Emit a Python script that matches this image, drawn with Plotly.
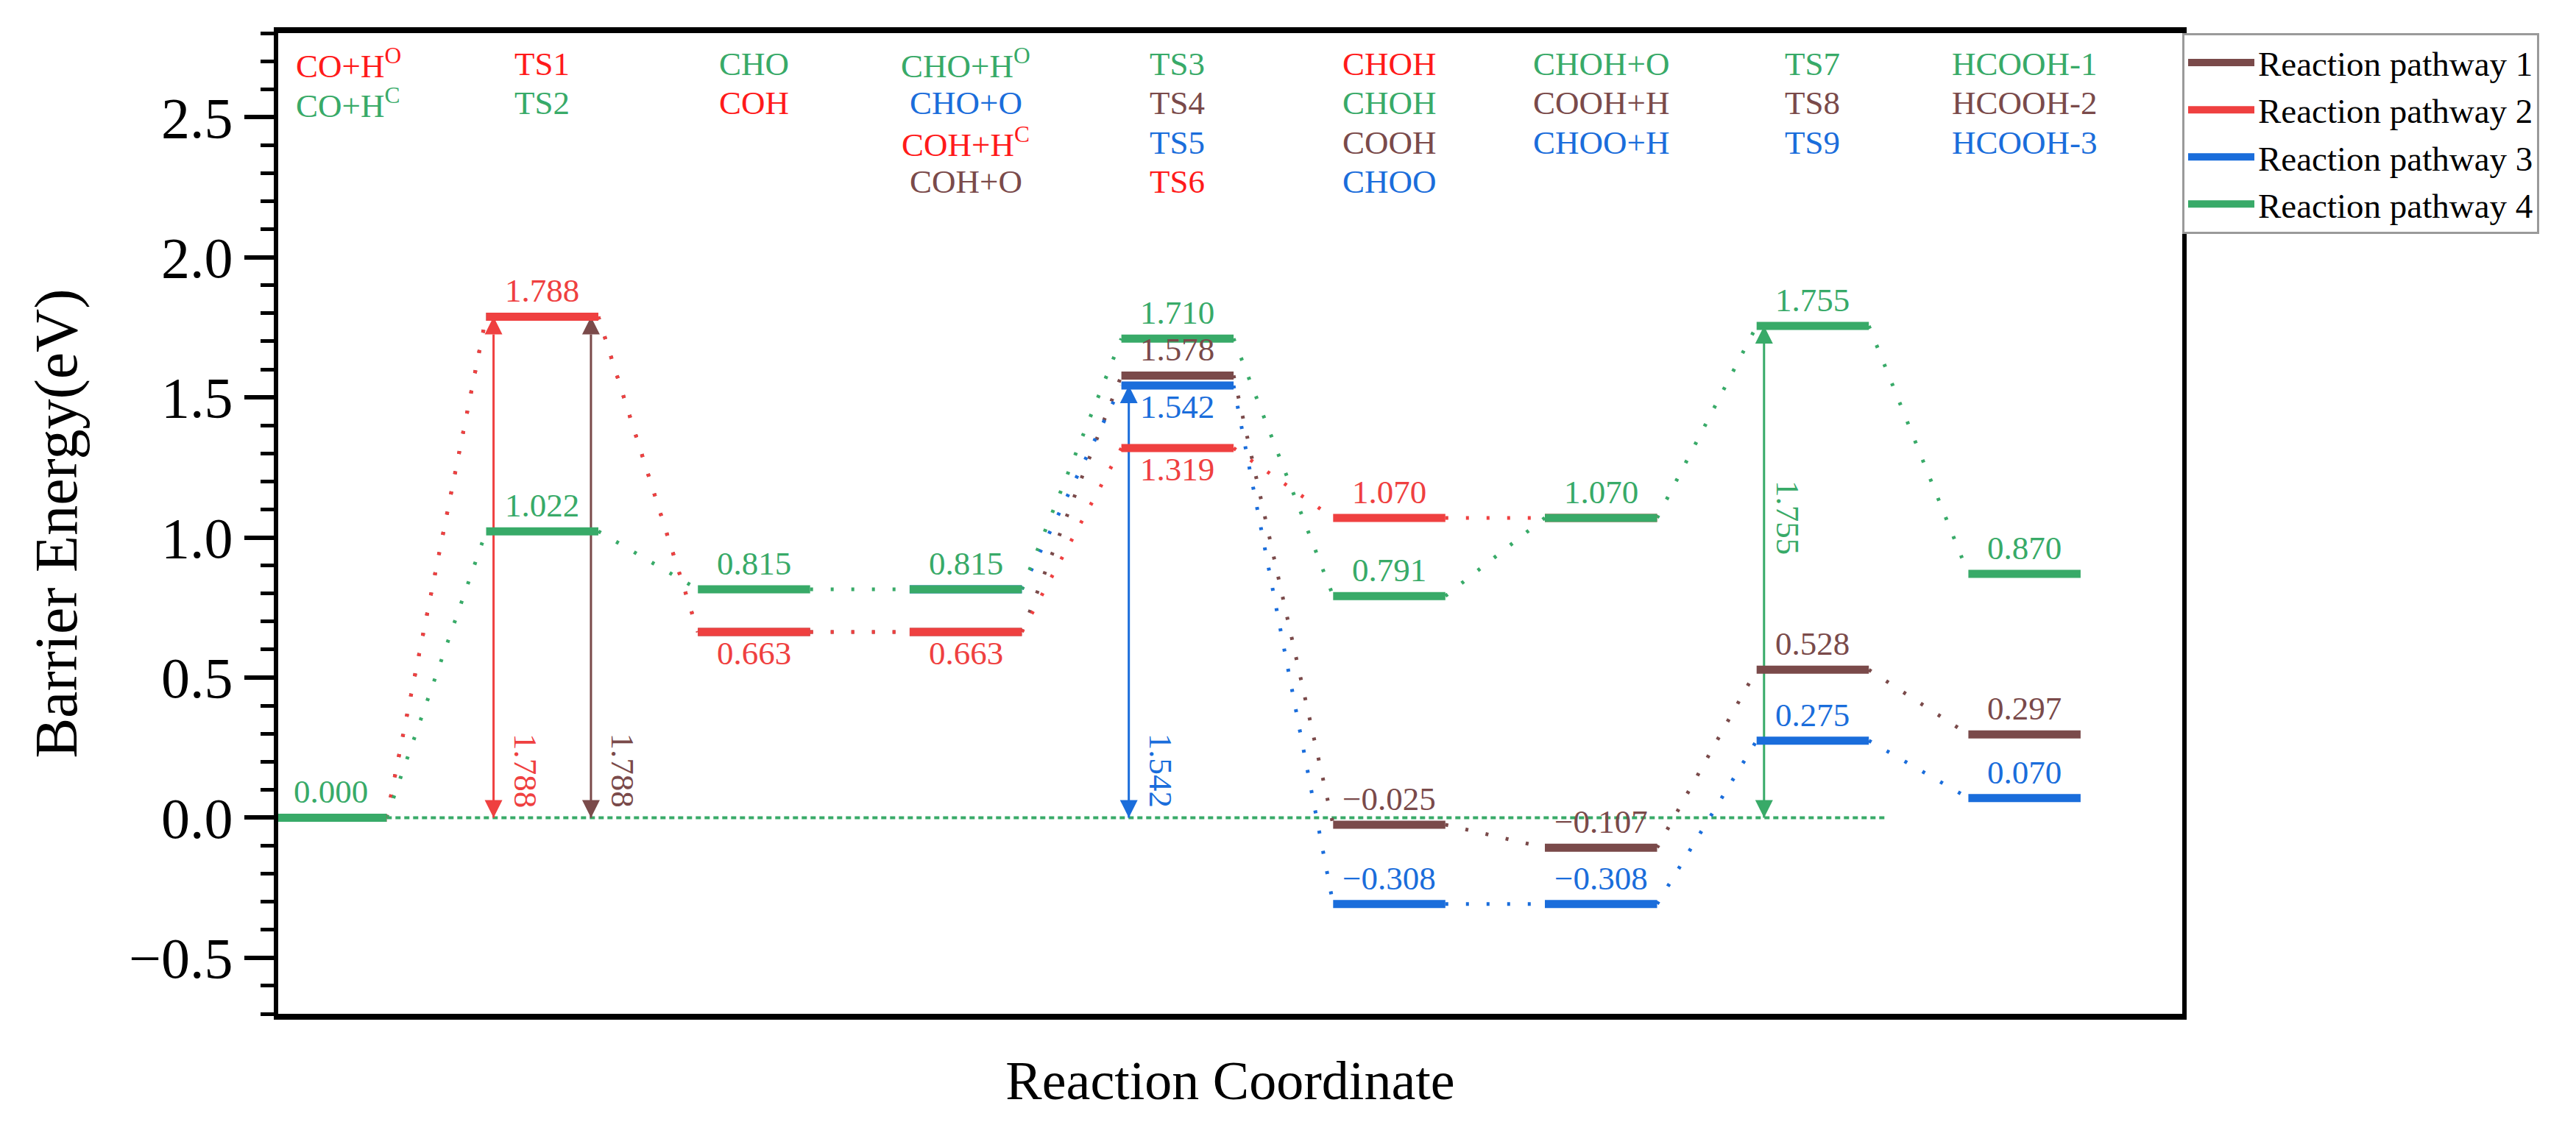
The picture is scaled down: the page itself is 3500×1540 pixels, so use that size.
import plotly.graph_objects as go

# ---------------- data ----------------
positions = list(range(9))
pathway_names = ["Reaction pathway 1", "Reaction pathway 2", "Reaction pathway 3", "Reaction pathway 4"]
pathway1 = [0.000, 1.788, 0.663, 0.663, 1.578, -0.025, -0.107, 0.528, 0.297]
pathway2 = [0.000, 1.788, 0.663, 0.663, 1.319, 1.070, 1.070, None, None]
pathway3 = [None, None, None, 0.815, 1.542, -0.308, -0.308, 0.275, 0.070]
pathway4 = [0.000, 1.022, 0.815, 0.815, 1.710, 0.791, 1.070, 1.755, 0.870]

# value labels: position, value, pathway (1-4), side
label_pos = [0, 1, 1, 2, 2, 3, 3, 4, 4, 4, 4, 5, 5, 5, 5, 6, 6, 6, 7, 7, 7, 8, 8, 8]
label_val = [0.000, 1.788, 1.022, 0.815, 0.663, 0.815, 0.663, 1.710, 1.578, 1.542, 1.319,
             1.070, 0.791, -0.025, -0.308, 1.070, -0.107, -0.308, 1.755, 0.528, 0.275,
             0.870, 0.297, 0.070]
label_path = [4, 2, 4, 4, 2, 4, 2, 4, 1, 3, 2, 2, 4, 1, 3, 4, 1, 3, 4, 1, 3, 4, 1, 3]
label_below = [False, False, False, False, True, False, True, False, False, True, True,
               False, False, False, False, False, False, False, False, False, False,
               False, False, False]

# species names at the top of each column
species_text = [
    ["CO+H<sup>O</sup>", "CO+H<sup>C</sup>"],
    ["TS1", "TS2"],
    ["CHO", "COH"],
    ["CHO+H<sup>O</sup>", "CHO+O", "COH+H<sup>C</sup>", "COH+O"],
    ["TS3", "TS4", "TS5", "TS6"],
    ["CHOH", "CHOH", "COOH", "CHOO"],
    ["CHOH+O", "COOH+H", "CHOO+H"],
    ["TS7", "TS8", "TS9"],
    ["HCOOH-1", "HCOOH-2", "HCOOH-3"],
]
species_path = [
    [2, 4], [2, 4], [4, 2], [4, 3, 2, 1], [4, 1, 3, 2],
    [2, 4, 1, 3], [4, 1, 3], [4, 1, 3], [4, 1, 3],
]

# barrier arrows
barrier_pos = [1, 1, 4, 7]
barrier_path = [2, 1, 3, 4]
barrier_val = [1.788, 1.788, 1.542, 1.755]
barrier_side = [-1, 1, -1, -1]

y_ticks = [-0.5, 0.0, 0.5, 1.0, 1.5, 2.0, 2.5]

# ---------------- style ----------------
colors = {1: "#7a4a4a", 2: "#ef4040", 3: "#1a6ddb", 4: "#38aa68"}
text_colors = {1: "#7a4a4a", 2: "#ff1a1a", 3: "#1a6ddb", 4: "#38aa68"}
HW = 0.265
FONT = "Liberation Serif"
paths = {1: pathway1, 2: pathway2, 3: pathway3, 4: pathway4}

fig = go.Figure()

# zero reference line (dashed, pathway-4 colour)
fig.add_trace(go.Scatter(x=[positions[0] + HW, positions[7] + 0.35], y=[pathway4[0], pathway4[0]],
                         mode="lines", line=dict(color=colors[4], width=4, dash="7px,5px"),
                         showlegend=False, hoverinfo="skip"))

draw_order = [1, 3, 2, 4]
for k in draw_order:
    vals = paths[k]
    cx, cy = [], []
    for i in range(len(positions) - 1):
        if vals[i] is not None and vals[i + 1] is not None:
            cx += [positions[i] + HW, positions[i + 1] - HW, None]
            cy += [vals[i], vals[i + 1], None]
    fig.add_trace(go.Scatter(x=cx, y=cy, mode="lines",
                             line=dict(color=colors[k], width=5, dash="4px,24px"),
                             legendgroup=str(k), showlegend=False, hoverinfo="skip"))

# barrier arrows (double headed) as line+marker traces
for p, k, v, s in zip(barrier_pos, barrier_path, barrier_val, barrier_side):
    xa = positions[p] + s * 0.23
    fig.add_trace(go.Scatter(x=[xa, xa], y=[0, v], mode="lines+markers",
                             line=dict(color=colors[k], width=3),
                             marker=dict(symbol=["arrow-down", "arrow-up"], size=24,
                                         color=colors[k], line=dict(width=0)),
                             showlegend=False, hoverinfo="skip", cliponaxis=False))

for k in draw_order:
    vals = paths[k]
    lx, ly = [], []
    for i, v in enumerate(vals):
        if v is not None:
            lx += [positions[i] - HW, positions[i] + HW, None]
            ly += [v, v, None]
    fig.add_trace(go.Scatter(x=lx, y=ly, mode="lines", name=pathway_names[k - 1],
                             line=dict(color=colors[k], width=11),
                             legendgroup=str(k), legendrank=k))

ann = []
# value labels
for p, v, k, below in zip(label_pos, label_val, label_path, label_below):
    txt = f"{v:.3f}".replace("-", "\u2212")
    ann.append(dict(x=positions[p], y=v, xref="x", yref="y", text=txt, showarrow=False,
                    font=dict(family=FONT, size=45, color=colors[k]),
                    xanchor="center", yanchor="top" if below else "bottom",
                    yshift=-2 if below else 8))

# species names
row_y = [2.69, 2.55, 2.41, 2.27]
for c, (texts, pk) in enumerate(zip(species_text, species_path)):
    for r, (t, k) in enumerate(zip(texts, pk)):
        if c == 0:
            ann.append(dict(x=positions[c] - 0.17, y=row_y[r], xref="x", yref="y", text=t,
                            showarrow=False, xanchor="left", yanchor="middle",
                            font=dict(family=FONT, size=45, color=text_colors[k])))
        else:
            ann.append(dict(x=positions[c], y=row_y[r], xref="x", yref="y", text=t,
                            showarrow=False, xanchor="center", yanchor="middle",
                            font=dict(family=FONT, size=45, color=text_colors[k])))

# rotated barrier labels
for p, k, v, s in zip(barrier_pos, barrier_path, barrier_val, barrier_side):
    xa = positions[p] + s * 0.23
    txt = f"{v:.3f}"
    if k == 4:
        ann.append(dict(x=xa, y=v * 0.61, xref="x", yref="y", text=txt, showarrow=False,
                        textangle=90, xanchor="left", yanchor="middle", xshift=6,
                        font=dict(family=FONT, size=45, color=colors[k])))
    else:
        ann.append(dict(x=xa, y=0.03, xref="x", yref="y", text=txt, showarrow=False,
                        textangle=90, xanchor="left", yanchor="bottom", xshift=16,
                        font=dict(family=FONT, size=45, color=colors[k])))

fig.update_layout(
    width=3500, height=1540,
    margin=dict(l=370, r=543, t=37, b=170),
    paper_bgcolor="white", plot_bgcolor="white",
    font=dict(family=FONT, color="black"),
    annotations=ann,
    legend=dict(x=1.0, y=1.0, xanchor="left", yanchor="top",
                font=dict(family=FONT, size=47, color="black"),
                bordercolor="#9a9a9a", borderwidth=3, bgcolor="white",
                itemwidth=90, tracegroupgap=0),
    xaxis=dict(range=[-0.247, 8.745], showticklabels=False, ticks="", showgrid=False,
               zeroline=False, showline=True, linewidth=8, linecolor="black", mirror=True,
               title=dict(text="Reaction Coordinate", standoff=60,
                          font=dict(family=FONT, size=74, color="black"))),
    yaxis=dict(range=[-0.70, 2.80], tickvals=y_ticks, tickformat=".1f", ticks="outside",
               ticklen=40, tickwidth=6, tickcolor="black", showgrid=False, zeroline=False,
               showline=True, linewidth=6, linecolor="black", mirror=True,
               tickfont=dict(family=FONT, size=78, color="black"),
               minor=dict(dtick=0.1, tick0=0, ticks="outside", ticklen=18, tickwidth=5,
                          tickcolor="black", showgrid=False),
               title=dict(text="Barrier Energy(eV)", standoff=45,
                          font=dict(family=FONT, size=82, color="black"))),
)

fig.write_html("out.html")
